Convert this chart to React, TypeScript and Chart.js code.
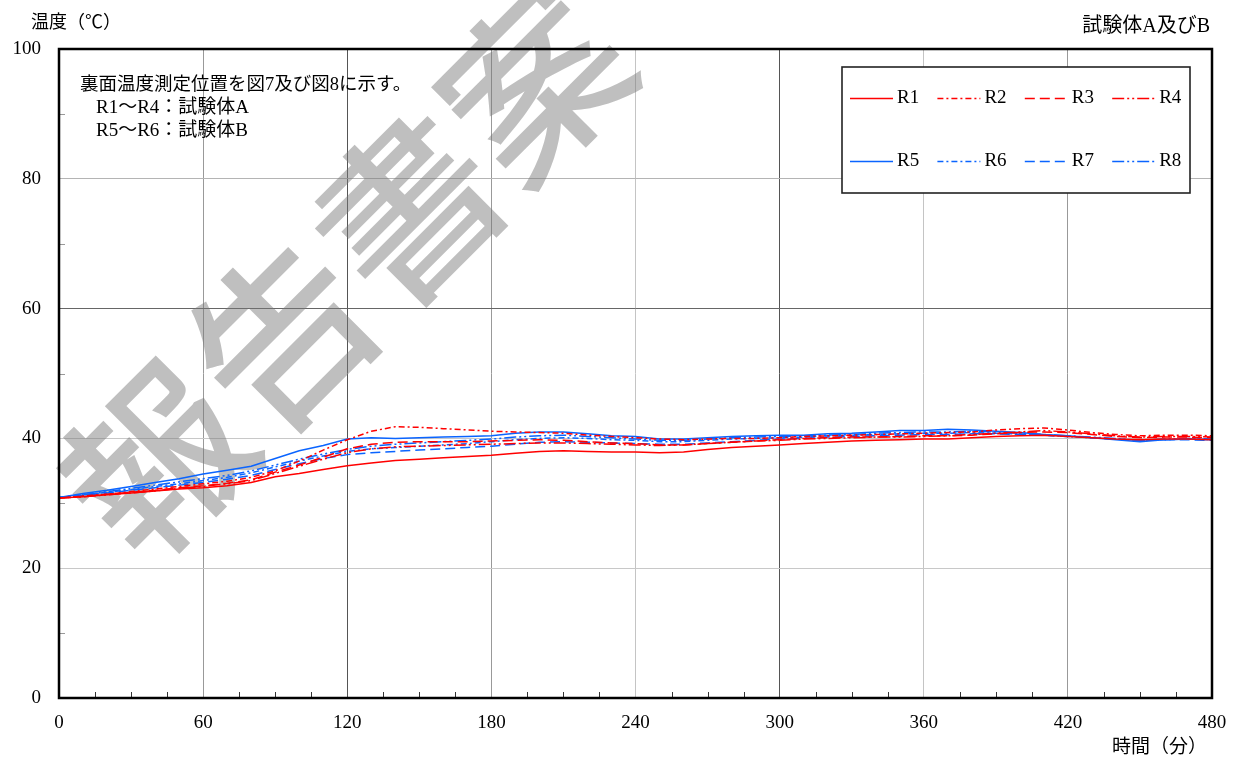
import React, { useEffect, useRef } from 'react';
import { Chart, registerables } from 'chart.js';

Chart.register(...registerables);

// ---- data ----
const times = [0, 10, 20, 30, 40, 50, 60, 70, 80, 90, 100, 110, 120, 130, 140, 150, 160, 170, 180, 190, 200, 210, 220, 230, 240, 250, 260, 270, 280, 290, 300, 310, 320, 330, 340, 350, 360, 370, 380, 390, 400, 410, 420, 430, 440, 450, 460, 470, 480];

const r1 = [30.8, 31.0, 31.3, 31.6, 31.9, 32.2, 32.4, 32.7, 33.2, 34.1, 34.6, 35.2, 35.8, 36.2, 36.6, 36.8, 37.0, 37.2, 37.4, 37.7, 38.0, 38.1, 38.0, 37.9, 37.9, 37.8, 37.9, 38.3, 38.6, 38.8, 39.0, 39.2, 39.4, 39.6, 39.7, 39.8, 39.9, 39.9, 40.1, 40.3, 40.4, 40.5, 40.3, 40.1, 39.9, 39.8, 39.9, 39.9, 39.8];
const r2 = [30.8, 31.1, 31.4, 31.8, 32.2, 32.6, 33.0, 33.4, 34.0, 35.0, 36.5, 38.2, 39.8, 41.1, 41.8, 41.7, 41.5, 41.3, 41.1, 41.0, 40.9, 40.8, 40.5, 40.3, 40.1, 39.9, 39.8, 39.9, 40.0, 40.0, 40.1, 40.3, 40.4, 40.5, 40.6, 40.7, 40.8, 40.9, 41.0, 41.3, 41.5, 41.6, 41.3, 40.9, 40.6, 40.4, 40.5, 40.5, 40.4];
const r3 = [30.8, 31.1, 31.4, 31.7, 32.0, 32.4, 32.7, 33.1, 33.6, 34.8, 35.9, 37.1, 38.4, 39.1, 39.4, 39.5, 39.5, 39.5, 39.6, 39.7, 39.8, 39.7, 39.5, 39.3, 39.2, 39.0, 39.0, 39.2, 39.4, 39.6, 39.8, 40.0, 40.1, 40.2, 40.2, 40.3, 40.4, 40.4, 40.5, 40.7, 40.9, 41.0, 40.9, 40.6, 40.3, 40.1, 40.2, 40.2, 40.1];
const r4 = [30.8, 31.0, 31.3, 31.6, 31.9, 32.3, 32.6, 33.0, 33.5, 34.6, 35.7, 36.8, 37.8, 38.4, 38.7, 38.8, 38.9, 39.0, 39.1, 39.2, 39.3, 39.3, 39.2, 39.1, 39.0, 38.9, 39.0, 39.2, 39.4, 39.6, 39.7, 39.9, 40.0, 40.1, 40.2, 40.2, 40.3, 40.4, 40.6, 40.8, 41.0, 41.2, 41.0, 40.7, 40.4, 40.2, 40.3, 40.3, 40.2];
const r5 = [30.9, 31.5, 32.0, 32.6, 33.2, 33.8, 34.5, 35.1, 35.7, 36.9, 38.1, 38.9, 39.9, 40.1, 40.0, 40.1, 40.2, 40.3, 40.4, 40.8, 41.0, 41.0, 40.7, 40.4, 40.3, 39.9, 39.9, 40.1, 40.3, 40.4, 40.5, 40.5, 40.7, 40.8, 41.0, 41.2, 41.2, 41.4, 41.3, 41.1, 40.9, 40.6, 40.4, 40.1, 39.8, 39.5, 39.8, 39.9, 39.8];
const r6 = [30.9, 31.3, 31.7, 32.1, 32.6, 33.0, 33.5, 34.0, 34.7, 35.6, 36.5, 37.3, 38.0, 38.4, 38.6, 38.8, 39.0, 39.2, 39.5, 39.8, 40.0, 40.1, 40.0, 39.8, 39.7, 39.5, 39.5, 39.7, 39.9, 40.0, 40.1, 40.2, 40.4, 40.5, 40.6, 40.7, 40.8, 40.8, 40.9, 40.8, 40.7, 40.5, 40.3, 40.1, 39.9, 39.7, 39.8, 39.9, 39.8];
const r7 = [30.9, 31.2, 31.6, 32.0, 32.4, 32.8, 33.2, 33.7, 34.3, 35.2, 36.1, 36.9, 37.5, 37.8, 38.0, 38.2, 38.4, 38.6, 38.8, 39.1, 39.4, 39.5, 39.4, 39.3, 39.2, 39.1, 39.1, 39.3, 39.5, 39.7, 39.9, 40.0, 40.2, 40.3, 40.4, 40.5, 40.6, 40.6, 40.7, 40.7, 40.6, 40.5, 40.3, 40.1, 39.9, 39.7, 39.8, 39.8, 39.7];
const r8 = [30.9, 31.3, 31.8, 32.3, 32.8, 33.3, 33.8, 34.3, 35.0, 35.9, 36.8, 37.6, 38.3, 38.8, 39.1, 39.3, 39.5, 39.7, 39.9, 40.2, 40.4, 40.5, 40.3, 40.1, 39.9, 39.7, 39.7, 39.9, 40.1, 40.2, 40.3, 40.4, 40.5, 40.6, 40.8, 40.9, 41.0, 41.0, 41.1, 41.0, 40.8, 40.6, 40.4, 40.2, 40.0, 39.7, 39.9, 40.0, 39.9];

const seriesNames = ['R1', 'R2', 'R3', 'R4', 'R5', 'R6', 'R7', 'R8'];
const seriesValues = [r1, r2, r3, r4, r5, r6, r7, r8];

const xMajorTicks = [0, 60, 120, 180, 240, 300, 360, 420, 480];
const xMinorTicks = [15, 30, 45, 75, 90, 105, 135, 150, 165, 195, 210, 225, 255, 270, 285, 315, 330, 345, 375, 390, 405, 435, 450, 465];
const yMajorTicks = [0, 20, 40, 60, 80, 100];
const yMinorTicks = [10, 30, 50, 70, 90];

const yAxisTitle = '温度（℃）';
const xAxisTitle = '時間（分）';
const chartTitle = '試験体A及びB';
const noteLines = ['裏面温度測定位置を図7及び図8に示す。', 'R1～R4：試験体A', 'R5～R6：試験体B'];
const watermarkText = '報告書案';

// ---- styles ----
const RED = '#ff0000';
const BLUE = '#0a64ff';
const colors = [RED, RED, RED, RED, BLUE, BLUE, BLUE, BLUE];
const dashes: number[][] = [[], [6, 3, 2, 3], [10, 5], [12, 3, 2, 3, 2, 3], [], [6, 3, 2, 3], [10, 5], [12, 3, 2, 3, 2, 3]];

const SERIF = '"Liberation Serif", "Noto Sans CJK JP", serif';

const xGridColor = (v: number) => {
  if (v === 120 || v === 300) return '#555555';
  if (v === 60 || v === 180 || v === 420) return '#999999';
  return '#c4c4c4';
};
const yGridColor = (v: number) => {
  if (v === 60) return '#666666';
  if (v === 80) return '#b4b4b4';
  return '#c8c8c8';
};

const decorPlugin = {
  id: 'decor',
  beforeDatasetsDraw(chart: any) {
    const { ctx, chartArea: a, scales } = chart;
    const x = scales.x;
    const y = scales.y;
    ctx.save();
    // minor ticks
    ctx.lineWidth = 1;
    ctx.strokeStyle = '#999999';
    ctx.beginPath();
    for (const v of yMinorTicks) {
      const py = Math.round(y.getPixelForValue(v)) + 0.5;
      ctx.moveTo(a.left, py);
      ctx.lineTo(a.left + 6, py);
    }
    ctx.stroke();
    ctx.strokeStyle = '#333333';
    ctx.beginPath();
    for (const v of xMinorTicks) {
      const px = Math.round(x.getPixelForValue(v)) + 0.5;
      ctx.moveTo(px, a.bottom);
      ctx.lineTo(px, a.bottom - 6);
    }
    ctx.stroke();
    ctx.restore();

    // watermark
    ctx.save();
    ctx.translate(345, 272);
    ctx.rotate(-Math.PI / 4);
    ctx.font = '500 178px "Noto Sans CJK JP"';
    ctx.fillStyle = 'rgba(120,120,120,0.47)';
    ctx.textAlign = 'center';
    ctx.textBaseline = 'middle';
    ctx.fillText(watermarkText, 0, 0);
    ctx.restore();
  },
  afterDatasetsDraw(chart: any) {
    const { ctx, chartArea: a } = chart;
    ctx.save();
    // frame
    ctx.strokeStyle = '#000';
    ctx.lineWidth = 2.5;
    ctx.strokeRect(a.left, a.top, a.right - a.left, a.bottom - a.top);

    // texts
    ctx.fillStyle = '#000';
    ctx.textBaseline = 'middle';
    ctx.font = `18px ${SERIF}`;
    ctx.textAlign = 'left';
    ctx.fillText(yAxisTitle, 31, 23);
    ctx.font = `20px ${SERIF}`;
    ctx.textAlign = 'right';
    ctx.fillText(chartTitle, 1210, 27);
    ctx.font = `19px ${SERIF}`;
    ctx.fillText(xAxisTitle, 1207, 748);

    ctx.textAlign = 'left';
    ctx.font = `18.5px ${SERIF}`;
    ctx.fillText(noteLines[0], 80, 85);
    ctx.font = `19px ${SERIF}`;
    ctx.fillText(noteLines[1], 96, 108);
    ctx.fillText(noteLines[2], 96, 131);

    // legend box
    const bx = 842, by = 67, bw = 348, bh = 126;
    ctx.fillStyle = '#fff';
    ctx.fillRect(bx, by, bw, bh);
    ctx.strokeStyle = '#222';
    ctx.lineWidth = 1.6;
    ctx.strokeRect(bx, by, bw, bh);
    ctx.font = `19px ${SERIF}`;
    for (let i = 0; i < seriesNames.length; i++) {
      const col = i % 4;
      const row = Math.floor(i / 4);
      const lx = 850 + col * 87.4;
      const ly = row === 0 ? 98.5 : 161.5;
      ctx.strokeStyle = colors[i];
      ctx.lineWidth = 1.5;
      ctx.setLineDash(dashes[i]);
      ctx.beginPath();
      ctx.moveTo(lx, ly);
      ctx.lineTo(lx + 43, ly);
      ctx.stroke();
      ctx.setLineDash([]);
      ctx.fillStyle = '#000';
      ctx.textAlign = 'left';
      ctx.fillText(seriesNames[i], lx + 47, ly);
    }
    ctx.restore();
  },
};

export default function App() {
  const ref = useRef<HTMLCanvasElement | null>(null);
  useEffect(() => {
    if (!ref.current) return;
    const datasets = seriesValues.map((vals, i) => ({
      label: seriesNames[i],
      data: times.map((t, j) => ({ x: t, y: vals[j] })),
      borderColor: colors[i],
      borderWidth: 1.5,
      borderDash: dashes[i],
      pointRadius: 0,
      fill: false,
      tension: 0,
    }));
    const chart = new Chart(ref.current, {
      type: 'line',
      data: { datasets },
      options: {
        animation: false,
        responsive: false,
        maintainAspectRatio: false,
        layout: { padding: { top: 49, right: 30, left: 0, bottom: 0 } },
        plugins: { legend: { display: false }, tooltip: { enabled: false }, title: { display: false } },
        scales: {
          x: {
            type: 'linear',
            min: 0,
            max: 480,
            afterBuildTicks: (s: any) => { s.ticks = xMajorTicks.map((v) => ({ value: v })); },
            afterFit: (s: any) => { s.height = 64; },
            grid: { color: (c: any) => xGridColor(c.tick.value), lineWidth: 1, drawTicks: false },
            border: { display: false },
            ticks: { color: '#000', padding: 14, maxRotation: 0, font: { family: SERIF, size: 19 } },
          },
          y: {
            type: 'linear',
            min: 0,
            max: 100,
            afterBuildTicks: (s: any) => { s.ticks = yMajorTicks.map((v) => ({ value: v })); },
            afterFit: (s: any) => { s.width = 59; },
            grid: { color: (c: any) => yGridColor(c.tick.value), lineWidth: 1, drawTicks: false },
            border: { display: false },
            ticks: { color: '#000', padding: 18, font: { family: SERIF, size: 19 } },
          },
        },
      },
      plugins: [decorPlugin],
    });
    return () => chart.destroy();
  }, []);
  return (
    <div style={{ position: 'fixed', left: 0, top: 0, width: 1242, height: 762, background: '#fff' }}>
      <canvas ref={ref} width={1242} height={762} style={{ width: 1242, height: 762, display: 'block' }} />
    </div>
  );
}
